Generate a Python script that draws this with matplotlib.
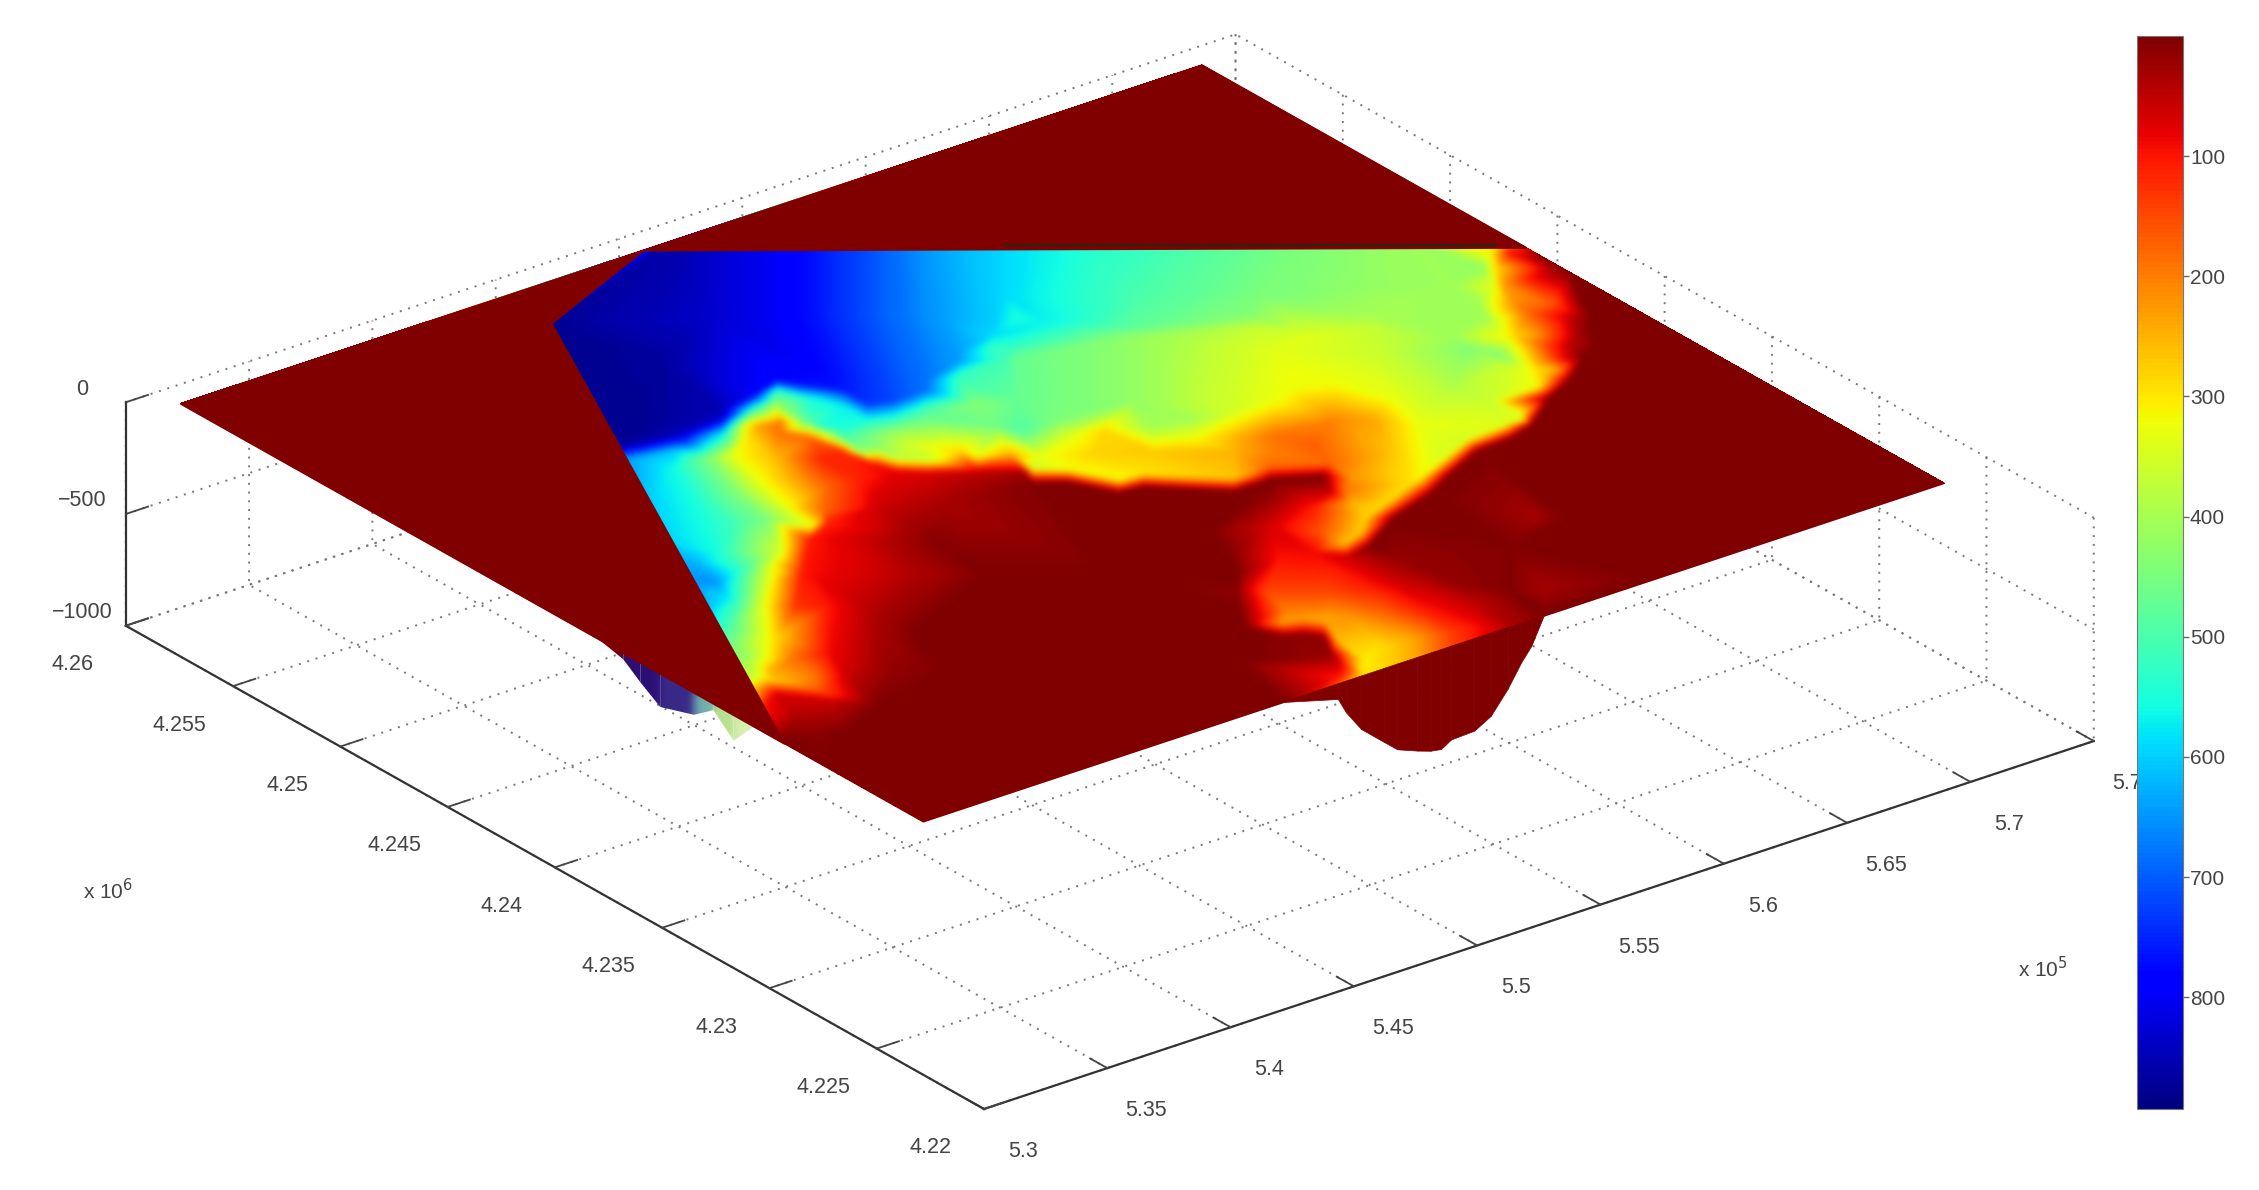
import numpy as np
import matplotlib
matplotlib.use("Agg")
import matplotlib.pyplot as plt
from matplotlib.cm import ScalarMappable
from matplotlib.colors import Normalize
from mpl_toolkits.mplot3d import proj3d
from mpl_toolkits.mplot3d.art3d import Poly3DCollection

# ---------- axis tables ----------
x_ticks = [530000, 535000, 540000, 545000, 550000, 555000, 560000, 565000, 570000, 575000]
x_tick_labels = ['5.3', '5.35', '5.4', '5.45', '5.5', '5.55', '5.6', '5.65', '5.7', '5.75']
y_ticks = [4220000, 4225000, 4230000, 4235000, 4240000, 4245000, 4250000, 4255000, 4260000]
y_tick_labels = ['4.22', '4.225', '4.23', '4.235', '4.24', '4.245', '4.25', '4.255', '4.26']
z_ticks = [-1000, -500, 0]
z_tick_labels = ['\u22121000', '\u2212500', '0']
cbar_ticks = [100, 200, 300, 400, 500, 600, 700, 800]
max_depth = 893.0

# ---------- surface extent (km) ----------
plane_x = [531.35, 572.75]
plane_y = [4224.4, 4259.0]

# ---------- depth samples: (x km, y km, depth m) ----------
top_row = [(551.10,4259.0,860),(552.60,4258.44,830),(554.44,4257.19,790),(556.28,4255.95,720),
           (558.12,4254.70,640),(559.96,4253.46,590),(561.43,4252.46,560),(563.64,4250.97,520),
           (565.85,4249.47,480),(568.06,4247.98,440),(570.27,4246.48,410),(572.11,4245.24,400),
           (572.66,4244.87,300)]
west_cut = [(544.00,4256.73,880),(540.84,4250.28,880),(540.27,4249.23,800),(539.84,4248.33,660),
            (538.82,4246.28,620),(537.48,4243.59,600),(536.19,4240.89,660),(535.28,4239.11,620),
            (534.16,4236.88,480),(533.04,4234.66,370),(532.14,4232.88,110)]
basin = [(541.57,4249.78,880),(545.58,4253.04,870),(544.91,4249.32,850),(549.01,4254.31,830),
         (550.85,4253.06,790),(549.11,4250.05,790),(549.57,4247.96,740),(552.69,4251.82,720),
         (551.44,4247.28,680),(554.53,4250.57,650),(553.59,4248.22,640),(555.55,4248.92,600),
         (557.11,4248.22,570),(557.35,4250.45,590)]
slope_deep = [(540.80,4249.11,870),(542.55,4248.76,850),(544.52,4248.87,830),(546.33,4249.54,800),
              (547.62,4249.87,780),(548.85,4248.21,760),(548.85,4247.13,740),(549.68,4246.80,720),
              (550.98,4246.76,680),(553.14,4247.69,640),(555.23,4248.55,590)]
slope_shallow = [(540.15,4248.36,640),(541.83,4247.93,600),(543.80,4248.04,580),(545.74,4248.86,560),
                 (547.16,4249.35,540),(547.67,4248.40,560),(548.13,4247.38,570),(548.13,4246.30,560),
                 (548.90,4245.90,540),(550.19,4245.85,510),(552.48,4246.94,520),(554.57,4247.80,520),
                 (554.51,4247.12,510)]
north_band = [(556.54,4248.98,550),(560.33,4247.84,500),(563.65,4246.07,450),(567.13,4244.55,420),
              (569.15,4243.18,410),(570.74,4243.54,420),(555.23,4247.47,520),(559.15,4246.48,480),
              (562.67,4244.94,430),(565.69,4242.90,400),(554.77,4246.95,470),(558.70,4245.96,420),
              (562.21,4244.41,370),(565.23,4242.37,370)]
mid_sea = [(563.33,4242.94,340),(561.61,4242.79,335),(564.12,4241.10,360),(566.86,4240.55,410),
           (566.79,4239.53,440),(567.16,4238.68,450),(568.57,4240.83,400),(552.75,4244.62,470),
           (552.95,4243.03,450),(555.76,4242.58,420),(556.52,4240.62,400),(557.84,4240.33,350),
           (559.22,4240.23,330),(560.39,4240.51,320),(561.62,4240.04,320),(562.48,4238.27,330),
           (562.00,4236.44,330),(561.05,4234.81,340),(559.21,4233.56,300)]
arc = [(560.05,4238.23,210),(558.36,4237.23,170),(557.82,4238.43,190),(561.05,4237.56,240),
       (560.06,4235.48,270),(558.83,4235.01,250),(556.81,4233.63,250),(556.35,4232.50,280),
       (554.73,4231.57,270),(557.78,4234.88,220)]
east_band = [(564.64,4238.00,390),(564.89,4236.40,360),(564.91,4234.94,340),(566.87,4237.80,350),
             (569.01,4241.01,330),(569.09,4241.91,410),(568.37,4239.53,300),(568.88,4239.18,250),
             (567.38,4237.45,320),(567.46,4236.80,250),(568.65,4237.43,90),(571.68,4244.21,300),
             (571.03,4243.34,300),(570.47,4242.28,230),(572.16,4243.89,90),(571.50,4242.19,100),
             (569.93,4240.39,170),(570.91,4240.56,170),(572.47,4242.37,40),(570.70,4239.39,50),
             (570.10,4238.36,30),(570.22,4237.56,0),(569.41,4238.11,60),(568.86,4238.48,150),
             (568.32,4237.65,170),(570.18,4242.36,330),(569.98,4241.31,220)]
coast = [(547.14,4243.74,380),(546.55,4243.07,80),(547.84,4243.15,370),(547.25,4242.47,70),
         (549.23,4242.45,320),(548.58,4241.70,60),(549.72,4240.80,30),(550.20,4240.95,370),
         (549.49,4240.13,5),(550.99,4240.18,320),(550.41,4239.51,0),(551.83,4238.79,320),
         (551.24,4238.11,0),(552.71,4238.67,300),(552.12,4237.99,0),(554.83,4236.87,270),
         (554.24,4236.19,0),(556.27,4236.84,180),(555.69,4236.17,0),(557.92,4235.97,180),
         (557.15,4235.43,0),(557.17,4234.44,190),(556.71,4234.52,60),(554.17,4230.87,60),
         (555.55,4231.84,280),(555.32,4231.04,0),(557.38,4232.87,290),(557.16,4232.07,0),
         (559.48,4233.61,310),(559.12,4232.65,0),(561.22,4234.34,340),(561.00,4233.54,0),
         (562.53,4234.89,350),(562.29,4234.09,0),(564.13,4234.99,340),(563.77,4234.17,0),
         (565.10,4235.29,340),(564.87,4234.49,0),(566.68,4236.38,320),(566.55,4235.62,0),
         (567.94,4236.95,260)]
shelf = [(550.85,4241.36,330),(552.75,4241.87,330),(553.21,4242.39,400),(553.70,4241.69,290),
         (552.48,4240.61,280),(553.99,4239.59,270),(555.67,4239.65,320),(556.01,4238.22,250),
         (557.04,4237.52,200),(554.95,4240.97,400),(546.69,4246.79,550),(546.95,4246.03,530),
         (547.80,4245.45,450),(548.11,4245.00,400),(548.31,4244.03,340),(549.80,4245.40,480),
         (552.09,4246.49,510),(551.72,4245.31,440),(551.11,4243.81,460),(551.48,4242.96,490),
         (549.02,4242.95,280),(550.18,4241.93,240),(546.45,4244.69,400)]
ridge = [(546.36,4248.57,400),(544.78,4248.09,330),(546.56,4247.12,500),(546.69,4245.73,500),
         (547.02,4244.54,420),(545.15,4247.84,230),(545.79,4247.64,200),(545.84,4246.30,180),
         (546.04,4244.97,120),(546.30,4243.72,90),(545.19,4245.06,120),(545.33,4247.12,190),
         (544.22,4247.39,300),(544.05,4245.84,260),(543.89,4244.51,220),(544.09,4243.53,180),
         (545.27,4243.34,110)]
west_bands = [(543.08,4246.73,330),(542.54,4244.84,330),(542.15,4243.18,330),(541.93,4241.66,330),
              (542.28,4247.03,450),(541.44,4244.85,450),(541.08,4242.84,450),(539.91,4240.88,350),
              (540.98,4247.08,560),(540.07,4244.96,550),(538.22,4242.03,560),(539.40,4243.73,550),
              (540.25,4243.16,500),(539.30,4245.95,590),(537.37,4241.99,620),(536.92,4240.40,650),
              (536.46,4239.27,570),(535.28,4237.91,500),(534.43,4235.98,400),(533.78,4234.76,340),
              (538.75,4240.82,470),(538.41,4239.63,330),(539.21,4240.28,310),(537.05,4238.39,340),
              (536.53,4238.74,480),(535.81,4236.50,300),(534.63,4235.61,340)]
west_red = [(541.27,4241.03,100),(539.58,4239.42,100),(537.90,4237.82,130),(539.32,4239.60,220),
            (542.85,4242.23,180),(542.53,4241.61,110),(544.54,4241.56,60),(544.33,4238.96,10),
            (541.97,4237.80,50),(539.63,4236.65,50),(538.74,4237.24,100),(538.53,4234.65,30),
            (546.27,4240.39,30),(547.72,4241.33,40),(534.22,4234.82,250),(535.61,4235.19,180),
            (535.14,4233.84,200),(534.68,4232.83,150),(534.10,4234.06,260),(533.39,4233.59,70),
            (532.87,4232.04,40),(534.47,4232.26,60),(536.11,4233.42,60),(536.58,4234.76,90),
            (535.41,4231.27,5),(537.09,4232.52,15),(538.56,4231.52,0),(534.92,4228.01,0),
            (533.36,4230.26,0),(532.63,4230.75,10)]
east_bay = [(555.54,4234.12,100),(555.80,4235.02,50),(553.59,4233.76,70),(551.43,4232.48,30),
            (552.28,4231.91,100),(552.66,4231.41,100),(550.45,4230.40,150),(550.17,4229.16,200),
            (549.48,4228.55,230),(550.20,4228.30,230),(550.58,4227.80,230),(550.13,4226.68,260),
            (549.57,4225.03,300),(548.96,4227.83,10),(549.54,4227.55,10),(549.92,4227.05,10),
            (549.33,4226.03,20),(549.13,4225.20,100),(548.62,4228.30,0),(548.54,4224.65,110),
            (549.26,4224.4,310),(549.96,4224.4,290),(551.30,4224.4,240),(552.65,4224.4,150),
            (553.99,4224.4,90),(555.22,4224.4,40),(556.62,4224.4,0),(549.85,4225.08,310),
            (551.01,4225.61,290),(552.18,4225.41,240),(553.29,4225.14,150),(554.46,4224.94,90),
            (550.96,4227.91,240),(551.60,4227.71,220),(552.64,4227.49,170),(553.89,4226.64,100),
            (555.10,4226.42,60),(552.14,4229.26,150),(553.31,4229.07,110),(554.29,4228.64,65),
            (555.00,4227.92,50),(553.38,4230.69,100),(554.49,4230.42,50),(553.53,4231.67,90),
            (554.69,4232.54,170),(555.33,4229.84,20),(555.88,4227.32,15),(558.79,4228.58,5),
            (560.91,4229.53,30),(557.64,4225.77,30),(561.57,4229.09,0),(556.83,4226.32,5),
            (549.71,4230.90,10),(548.38,4229.05,0),(551.29,4233.06,5),(553.94,4235.44,0),
            (551.71,4234.56,0),(554.50,4235.06,20)]
land = [(571.18,4239.07,0),(569.17,4237.08,0),(567.95,4236.23,0),(572.75,4241.74,0),
        (539.78,4234.28,0),(544.23,4236.04,0),(547.55,4233.79,0),(550.49,4231.80,0),
        (543.71,4228.04,0),(538.07,4228.28,0),(546.57,4227.29,0),(569.54,4230.86,0),
        (561.16,4224.58,0),
        (531.35,4224.4,0),(536.0,4224.4,0),(541.0,4224.4,0),(546.0,4224.4,0),(558.0,4224.4,0),
        (562.0,4224.4,0),(566.0,4224.4,0),(570.0,4224.4,0),(572.75,4224.4,0),
        (531.35,4228.0,0),(531.35,4231.0,0),(531.35,4236.0,0),(531.35,4240.0,0),(531.35,4250.0,0),
        (531.35,4259.0,0),(540.0,4259.0,0),(560.0,4259.0,0),(572.75,4259.0,0),
        (572.75,4230.0,0),(572.75,4236.0,0),(572.75,4243.0,0)]

# land that hides the sea floor, in (x km, y km)
west_land = [(531.35,4259.0),(550.10,4259.0),(544.45,4256.79),(531.35,4230.88)]
north_land = [(550.10,4259.0),(572.75,4259.0),(572.75,4243.9)]
north_rim_x = [559.57, 572.08]
north_rim_y = [4253.01, 4244.54]

# wall hanging under the south edge: position along the edge and its foot
south_wall_x = [545.87,548.2,548.52,549.14,550.07,550.6,551.42,551.95,552.38,552.79,553.73,554.40,555.08,555.63,556.04,556.56]
south_wall_depth = [0,71,142,240,332,384,420,440,448,420,415,373,277,179,120,0]
# fragment hanging under the west edge
west_wall_y = [4239.6,4238.36,4237.56,4236.64,4235.07,4234.16,4233.22,4232.31]
west_wall_depth = [0,30,90,150,100,30,116,5]
west_wall_colors = ['#7f0000','#2f1070','#2c1078','#3a2a88','#6fb0b0','#b8e090','#d8f0b0']


def blur(sigma):
    r = int(3*sigma)
    kernel = np.exp(-0.5*(np.arange(-r, r+1)/sigma)**2)
    kernel /= kernel.sum()

    def apply(image, dpi):
        src = np.pad(image, ((r, r), (r, r), (0, 0)))
        mask = src[..., 3].copy()
        out = src.copy()
        out[..., :3] *= mask[..., None]
        for axis in (0, 1):
            acc = np.zeros_like(out)
            for i, k in enumerate(kernel):
                acc += k*np.roll(out, i-r, axis=axis)
            out = acc
        alpha = np.maximum(out[..., 3:], 1e-6)
        out[..., :3] = np.clip(out[..., :3]/alpha, 0, 1)
        out[..., 3] = mask
        return out, -r, -r
    return apply


# ---------- figure ----------
W, H = 2259, 1190
plt.rcParams['font.family'] = ['Liberation Sans', 'DejaVu Sans']
fig = plt.figure(figsize=(W/100, H/100), dpi=100, facecolor='white')
ax = fig.add_axes([0.1, 0.0, 1190/2259, 1.0], projection='3d', proj_type='ortho', computed_zorder=False)
ax.patch.set_alpha(0)
ax.view_init(elev=25.6, azim=-127.5)
ax.set_box_aspect((970, 977.6, 171.8))
ax.set_xlim(x_ticks[0], x_ticks[-1], view_margin=0)
ax.set_ylim(y_ticks[0], y_ticks[-1], view_margin=0)
ax.set_zlim(z_ticks[0], z_ticks[-1], view_margin=0)


def corner(x, y, z):
    xs, ys, _ = proj3d.proj_transform(x, y, z, ax.get_proj())
    return ax.transData.transform((xs, ys))


xa, xb, ya, yb, za = x_ticks[0], x_ticks[-1], y_ticks[0], y_ticks[-1], z_ticks[0]
target_near = np.array([984.0, H-1109.0])
target_span = 1968.0
L, B, S = 226.0, 0.0, 1190.0
for _ in range(3):
    ax.set_position([L/W, B/H, S/W, S/H]); ax.apply_aspect()
    span = corner(xb, ya, za)[0] - corner(xa, yb, za)[0]
    S *= target_span/span
    ax.set_position([L/W, B/H, S/W, S/H]); ax.apply_aspect()
    off = target_near - corner(xa, ya, za)
    L += off[0]; B += off[1]
ax.set_position([L/W, B/H, S/W, S/H])

# axes styling
for axis in (ax.xaxis, ax.yaxis, ax.zaxis):
    axis.set_pane_color((1, 1, 1, 0))
    axis.pane.set_edgecolor((1, 1, 1, 0))
    axis._axinfo['grid'].update(color='#777777', linewidth=1.4, linestyle=(0, (1, 3.5)))
    axis._axinfo['tick'].update(inward_factor=0.0, outward_factor=0.25, linewidth={True: 1.3, False: 1.0})
    axis.line.set_color('#333333')
    axis.line.set_linewidth(1.6)
ax.set_xticks(x_ticks, x_tick_labels)
ax.set_yticks(y_ticks, y_tick_labels)
ax.set_zticks(z_ticks, z_tick_labels)
ax.tick_params(axis='both', labelsize=15.5, colors='#444444')
ax.xaxis.set_tick_params(pad=25)
ax.yaxis.set_tick_params(pad=27)
ax.zaxis.set_tick_params(pad=8)
ax.zaxis.set_ticks_position('upper')
plt.setp(ax.zaxis.get_ticklabels(), va='bottom')

# plane
px0, px1 = [v*1000 for v in plane_x]
py0, py1 = [v*1000 for v in plane_y]
DARK = plt.get_cmap('jet')(1.0)
ax.add_collection3d(Poly3DCollection([[(px0,py0,0),(px1,py0,0),(px1,py1,0),(px0,py1,0)]],
                    facecolor=DARK, edgecolor=DARK, zorder=1))

# coloured depth field on the plane
samples = top_row + west_cut + basin + slope_deep + slope_shallow + north_band + mid_sea + arc + east_band \
    + coast + shelf + ridge + west_bands + west_red + east_bay + land
arr = np.array(samples, dtype=float)
_, idx = np.unique(arr[:, :2], axis=0, return_index=True)
arr = arr[np.sort(idx)]
sx = np.clip(arr[:, 0], *plane_x)*1000
sy = np.clip(arr[:, 1], *plane_y)*1000
sd = arr[:, 2]
levels = np.linspace(-max_depth, 0.5, 140)
cs = ax.tricontourf(sx, sy, -sd, levels=levels, cmap='jet', vmin=-max_depth, vmax=0, zdir='z', offset=0,
                    zorder=2, antialiased=False)
cs.set_agg_filter(blur(3.0))

# covering land
for poly in (west_land, north_land):
    ax.add_collection3d(Poly3DCollection([[(a*1000, b*1000, 0) for a, b in poly]],
                        facecolor=DARK, edgecolor=DARK, linewidth=1.5, zorder=3))
ax.plot(np.array(north_rim_x)*1000, np.array(north_rim_y)*1000, [0, 0], color='#2a2410', lw=1.6, zorder=4)

# hanging walls
wx = np.array([south_wall_x, south_wall_x])*1000
wy = np.full_like(wx, py0)
wz = np.array([np.zeros(len(south_wall_depth)), -np.array(south_wall_depth, float)])
ax.plot_surface(wx, wy, wz, color=DARK, shade=False, rstride=1, cstride=1, linewidth=0.5, edgecolor=DARK, zorder=5)

wy2 = np.array([west_wall_y, west_wall_y])*1000
wx2 = np.full_like(wy2, px0)
wz2 = np.array([np.zeros(len(west_wall_depth)), -np.array(west_wall_depth, float)])
fc = np.array([[matplotlib.colors.to_rgba(c) for c in west_wall_colors]])
wall = ax.plot_surface(wx2, wy2, wz2, facecolors=fc, shade=False, rstride=1, cstride=1, linewidth=0, zorder=1)
wall.set_agg_filter(blur(3.0))

# offset labels
fig.text(75/1568, 1-618/826, 'x 10$^{6}$', fontsize=15, color='#444444', ha='center', va='center', math_fontfamily='dejavusans')
fig.text(1418/1568, 1-672/826, 'x 10$^{5}$', fontsize=15, color='#444444', ha='center', va='center', math_fontfamily='dejavusans')

# colour bar
cax = fig.add_axes([2137/W, 1-1109/H, 46/W, 1073/H], zorder=5)
sm = ScalarMappable(norm=Normalize(0, max_depth), cmap='jet_r')
cb = fig.colorbar(sm, cax=cax)
cax.invert_yaxis()
cb.set_ticks(cbar_ticks)
cax.tick_params(axis='y', direction='out', length=4, width=1, color='#666666', labelsize=15, labelcolor='#444444', pad=1)
cb.outline.set_edgecolor('#777777')
cb.outline.set_linewidth(0.8)

fig.savefig('out.png', dpi=100, facecolor='white')
